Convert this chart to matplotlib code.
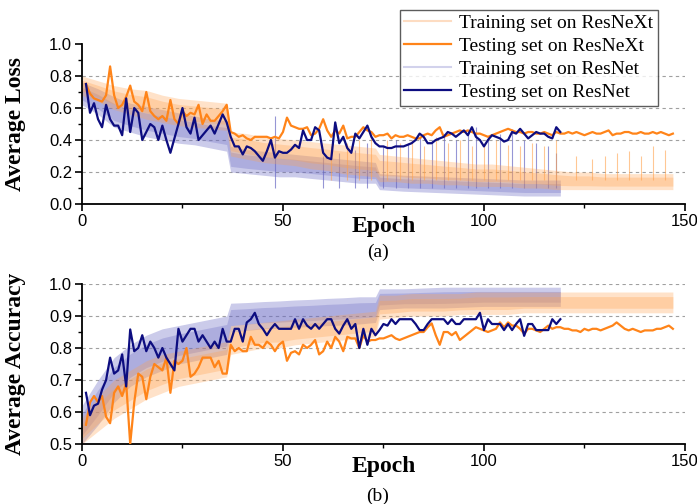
import matplotlib
matplotlib.use('Agg')
import matplotlib.pyplot as plt
import numpy as np
from matplotlib.lines import Line2D
from matplotlib.ticker import MultipleLocator

# testing curves, one value per epoch
nx_test_ep = np.arange(1, 148)
rn_test_ep = np.arange(1, 120)

loss_nx_test = [0.75, 0.69, 0.66, 0.65, 0.64, 0.68, 0.86, 0.68, 0.60, 0.62,
                0.67, 0.74, 0.64, 0.62, 0.58, 0.70, 0.58, 0.55, 0.53, 0.55,
                0.52, 0.65, 0.53, 0.50, 0.58, 0.55, 0.57, 0.56, 0.62, 0.50,
                0.56, 0.52, 0.52, 0.55, 0.58, 0.62, 0.45, 0.44, 0.42, 0.43,
                0.41, 0.40, 0.42, 0.42, 0.42, 0.42, 0.41, 0.42, 0.41, 0.45,
                0.54, 0.49, 0.48, 0.47, 0.47, 0.48, 0.43, 0.44, 0.47, 0.53,
                0.46, 0.42, 0.46, 0.44, 0.49, 0.41, 0.42, 0.42, 0.45, 0.48,
                0.46, 0.45, 0.42, 0.43, 0.43, 0.44, 0.41, 0.43, 0.42, 0.42,
                0.43, 0.42, 0.41, 0.41, 0.43, 0.44, 0.43, 0.46, 0.48, 0.42,
                0.43, 0.44, 0.45, 0.46, 0.45, 0.46, 0.45, 0.44, 0.44, 0.43,
                0.42, 0.43, 0.44, 0.45, 0.46, 0.47, 0.46, 0.45, 0.45, 0.44,
                0.45, 0.45, 0.44, 0.44, 0.45, 0.44, 0.43, 0.45, 0.44, 0.44,
                0.45, 0.44, 0.45, 0.44, 0.43, 0.44, 0.45, 0.44, 0.44, 0.45,
                0.46, 0.43, 0.44, 0.44, 0.45, 0.45, 0.44, 0.44, 0.45, 0.44,
                0.44, 0.45, 0.44, 0.45, 0.44, 0.43, 0.44]

loss_rn_test = [0.75, 0.57, 0.63, 0.53, 0.48, 0.62, 0.53, 0.49, 0.49, 0.43,
                0.66, 0.45, 0.60, 0.57, 0.40, 0.45, 0.50, 0.48, 0.40, 0.49,
                0.40, 0.32, 0.41, 0.50, 0.60, 0.48, 0.44, 0.54, 0.40, 0.43,
                0.46, 0.49, 0.44, 0.50, 0.56, 0.51, 0.42, 0.36, 0.36, 0.31,
                0.36, 0.35, 0.33, 0.30, 0.27, 0.33, 0.40, 0.29, 0.33, 0.32,
                0.32, 0.34, 0.37, 0.35, 0.46, 0.40, 0.40, 0.48, 0.46, 0.32,
                0.29, 0.28, 0.51, 0.38, 0.42, 0.35, 0.32, 0.44, 0.41, 0.45,
                0.49, 0.42, 0.38, 0.36, 0.36, 0.35, 0.35, 0.36, 0.36, 0.36,
                0.37, 0.38, 0.40, 0.44, 0.42, 0.38, 0.38, 0.40, 0.41, 0.42,
                0.45, 0.44, 0.42, 0.44, 0.46, 0.43, 0.48, 0.42, 0.40, 0.36,
                0.40, 0.43, 0.42, 0.41, 0.39, 0.40, 0.45, 0.44, 0.47, 0.44,
                0.41, 0.43, 0.45, 0.44, 0.44, 0.42, 0.41, 0.48, 0.45]

acc_nx_test = [0.56, 0.63, 0.65, 0.63, 0.65, 0.585, 0.565, 0.66, 0.68, 0.65,
               0.69, 0.50, 0.63, 0.72, 0.71, 0.64, 0.71, 0.75, 0.74, 0.73,
               0.77, 0.66, 0.76, 0.75, 0.76, 0.80, 0.71, 0.72, 0.74, 0.77,
               0.77, 0.77, 0.74, 0.76, 0.72, 0.72, 0.81, 0.79, 0.80, 0.79,
               0.79, 0.835, 0.81, 0.81, 0.80, 0.82, 0.81, 0.79, 0.81, 0.82,
               0.76, 0.785, 0.79, 0.78, 0.81, 0.80, 0.81, 0.825, 0.78, 0.79,
               0.82, 0.80, 0.835, 0.82, 0.79, 0.835, 0.83, 0.83, 0.80, 0.84,
               0.82, 0.825, 0.825, 0.83, 0.83, 0.835, 0.84, 0.83, 0.825, 0.83,
               0.835, 0.84, 0.845, 0.85, 0.85, 0.865, 0.877, 0.84, 0.81, 0.85,
               0.85, 0.84, 0.85, 0.825, 0.835, 0.845, 0.855, 0.865, 0.86, 0.855,
               0.85, 0.855, 0.86, 0.88, 0.865, 0.88, 0.87, 0.87, 0.86, 0.845,
               0.86, 0.86, 0.855, 0.85, 0.86, 0.87, 0.86, 0.865, 0.865, 0.86,
               0.86, 0.855, 0.855, 0.85, 0.86, 0.855, 0.86, 0.86, 0.855, 0.86,
               0.865, 0.87, 0.88, 0.87, 0.86, 0.855, 0.86, 0.855, 0.85, 0.855,
               0.855, 0.855, 0.86, 0.86, 0.865, 0.87, 0.86]

acc_rn_test = [0.66, 0.59, 0.62, 0.626, 0.67, 0.70, 0.77, 0.72, 0.73, 0.78,
               0.68, 0.858, 0.79, 0.80, 0.84, 0.79, 0.82, 0.80, 0.77, 0.80,
               0.77, 0.75, 0.73, 0.86, 0.82, 0.84, 0.86, 0.86, 0.82, 0.84,
               0.82, 0.80, 0.82, 0.80, 0.86, 0.82, 0.82, 0.86, 0.86, 0.82,
               0.88, 0.89, 0.91, 0.875, 0.86, 0.84, 0.86, 0.875, 0.86, 0.86,
               0.86, 0.86, 0.89, 0.86, 0.89, 0.87, 0.86, 0.875, 0.86, 0.875,
               0.89, 0.89, 0.86, 0.845, 0.87, 0.89, 0.86, 0.875, 0.80, 0.86,
               0.81, 0.86, 0.84, 0.856, 0.875, 0.87, 0.89, 0.875, 0.89, 0.89,
               0.89, 0.89, 0.875, 0.856, 0.856, 0.875, 0.89, 0.89, 0.89, 0.89,
               0.875, 0.89, 0.875, 0.875, 0.89, 0.89, 0.89, 0.89, 0.91, 0.856,
               0.89, 0.875, 0.875, 0.875, 0.856, 0.875, 0.856, 0.875, 0.89, 0.838,
               0.875, 0.875, 0.856, 0.856, 0.856, 0.856, 0.89, 0.875, 0.89]

# training curves: spread (low / high)
nx_band_ep = [0, 4, 8, 12, 16, 20, 24, 28, 32, 36, 37, 41, 45, 49, 53, 57, 61,
              65, 69, 73, 74, 78, 82, 86, 90, 94, 98, 102, 106, 110, 114, 118,
              122, 126, 130, 134, 138, 142, 147]
rn_band_ep = [0, 4, 8, 12, 16, 20, 24, 28, 32, 36, 37, 41, 45, 49, 53, 57, 61,
              65, 69, 73, 74, 80, 90, 100, 110, 119]

loss_nx_lo = [0.68, 0.64, 0.59, 0.56, 0.53, 0.51, 0.49, 0.48, 0.47, 0.46, 0.30,
              0.28, 0.26, 0.25, 0.24, 0.22, 0.21, 0.19, 0.18, 0.17, 0.14, 0.14,
              0.13, 0.13, 0.12, 0.12, 0.11, 0.11, 0.11, 0.10, 0.10, 0.09, 0.09,
              0.09, 0.09, 0.09, 0.09, 0.09, 0.09]
loss_nx_hi = [0.80, 0.77, 0.74, 0.72, 0.71, 0.68, 0.66, 0.65, 0.64, 0.63, 0.45,
              0.44, 0.42, 0.41, 0.40, 0.39, 0.38, 0.37, 0.36, 0.35, 0.31, 0.30,
              0.29, 0.28, 0.27, 0.26, 0.25, 0.25, 0.24, 0.23, 0.22, 0.21, 0.20,
              0.20, 0.19, 0.19, 0.19, 0.19, 0.19]
loss_rn_lo = [0.62, 0.56, 0.48, 0.45, 0.42, 0.40, 0.38, 0.37, 0.35, 0.33, 0.20,
              0.19, 0.18, 0.17, 0.17, 0.16, 0.15, 0.14, 0.13, 0.13, 0.09, 0.08,
              0.07, 0.06, 0.05, 0.05]
loss_rn_hi = [0.76, 0.72, 0.67, 0.63, 0.61, 0.59, 0.57, 0.55, 0.53, 0.52, 0.36,
              0.34, 0.33, 0.32, 0.31, 0.30, 0.29, 0.28, 0.27, 0.26, 0.19, 0.18,
              0.17, 0.16, 0.15, 0.15]

acc_nx_lo = [0.50, 0.54, 0.58, 0.61, 0.64, 0.66, 0.68, 0.69, 0.70, 0.71, 0.78,
             0.79, 0.80, 0.80, 0.81, 0.815, 0.82, 0.825, 0.83, 0.835, 0.89, 0.895,
             0.90, 0.90, 0.90, 0.905, 0.905, 0.905, 0.905, 0.91, 0.91, 0.91, 0.91,
             0.91, 0.91, 0.91, 0.91, 0.91, 0.91]
acc_nx_hi = [0.58, 0.65, 0.70, 0.73, 0.76, 0.78, 0.79, 0.80, 0.81, 0.82, 0.87,
             0.875, 0.88, 0.885, 0.89, 0.895, 0.90, 0.905, 0.91, 0.915, 0.965, 0.965,
             0.97, 0.97, 0.97, 0.97, 0.975, 0.975, 0.975, 0.975, 0.975, 0.975, 0.975,
             0.975, 0.975, 0.975, 0.975, 0.975, 0.975]
acc_rn_lo = [0.50, 0.56, 0.63, 0.68, 0.71, 0.73, 0.75, 0.76, 0.77, 0.78, 0.85,
             0.855, 0.86, 0.862, 0.865, 0.867, 0.87, 0.872, 0.875, 0.88, 0.92, 0.925,
             0.925, 0.93, 0.93, 0.93]
acc_rn_hi = [0.62, 0.70, 0.77, 0.81, 0.84, 0.86, 0.87, 0.88, 0.89, 0.90, 0.94,
             0.942, 0.945, 0.947, 0.95, 0.952, 0.955, 0.957, 0.96, 0.96, 0.985, 0.985,
             0.99, 0.99, 0.99, 0.99]

# occasional spikes in the training loss
nx_spike_ep = [62, 66, 69, 72, 76, 79, 82, 85, 88, 91, 94, 97, 100, 103, 106,
               109, 112, 115, 118, 123, 127, 130, 133, 136, 139, 142, 145]
nx_spike_val = [0.36, 0.38, 0.40, 0.42, 0.40, 0.38, 0.40, 0.36, 0.42, 0.38, 0.40,
                0.36, 0.38, 0.40, 0.37, 0.36, 0.38, 0.36, 0.40, 0.30, 0.28, 0.30,
                0.32, 0.33, 0.30, 0.36, 0.34]
rn_spike_ep = [48, 60, 64, 68, 71, 75, 78, 81, 84, 87, 90, 93, 96, 98, 101,
               104, 107, 110, 113, 116, 118]
rn_spike_val = [0.55, 0.30, 0.32, 0.34, 0.38, 0.36, 0.40, 0.38, 0.42, 0.40, 0.44,
                0.40, 0.46, 0.48, 0.42, 0.44, 0.47, 0.40, 0.38, 0.36, 0.32]

c_nx = '#FF8419'
c_rn = '#0D0D80'
c_nx_train = '#FFA24D'
c_rn_train = '#6A6AC4'
serif = 'Liberation Serif'
sans = 'Liberation Sans'

fig = plt.figure(figsize=(6.97, 5.04), dpi=100)
ax1 = fig.add_axes([0.1176, 0.5952, 0.8651, 0.3175])
ax2 = fig.add_axes([0.1176, 0.1190, 0.8651, 0.3175])


def draw_band(ax, ep, lo, hi, color, a_out, a_in, z):
    # sparse fringe plus a denser core, like a noisy per-iteration curve
    lo = np.asarray(lo)
    hi = np.asarray(hi)
    w = hi - lo
    ax.fill_between(ep, lo, hi, color=color, alpha=a_out, lw=0, zorder=z)
    ax.fill_between(ep, lo + 0.22 * w, hi - 0.22 * w, color=color,
                    alpha=a_in, lw=0, zorder=z)


def style_axes(ax, ylo, yhi, ymaj, grid_levels, ylabel):
    ax.set_xlim(0, 150)
    ax.set_ylim(ylo, yhi)
    ax.xaxis.set_major_locator(MultipleLocator(50))
    ax.xaxis.set_minor_locator(MultipleLocator(25))
    ax.yaxis.set_major_locator(MultipleLocator(ymaj))
    ax.yaxis.set_minor_locator(MultipleLocator(ymaj / 2))
    for s in ['top', 'right']:
        ax.spines[s].set_visible(False)
    for s in ['left', 'bottom']:
        ax.spines[s].set_linewidth(1.3)
    ax.tick_params(which='major', length=5, width=1.2, pad=2, labelsize=12)
    ax.tick_params(which='minor', length=3, width=1.0)
    for lab in ax.get_xticklabels() + ax.get_yticklabels():
        lab.set_family(sans)
    for g in grid_levels:
        ax.axhline(g, color='#a0a0a0', lw=0.8, ls=(0, (3, 3)), zorder=0)
    ax.set_ylabel(ylabel, family=serif, fontweight='bold', fontsize=17)
    ax.yaxis.set_label_coords(-0.092, 0.5)
    ax.text(0.5, -0.14, 'Epoch', transform=ax.transAxes, ha='center',
            va='center', family=serif, fontweight='bold', fontsize=17)


# (a) loss
draw_band(ax1, rn_band_ep, loss_rn_lo, loss_rn_hi, c_rn_train, 0.35, 0.3, 1)
draw_band(ax1, nx_band_ep, loss_nx_lo, loss_nx_hi, c_nx_train, 0.3, 0.3, 2)
ax1.vlines(rn_spike_ep, 0.1, rn_spike_val, color=c_rn_train, lw=0.8,
           alpha=0.7, zorder=1)
ax1.vlines(nx_spike_ep, 0.15, nx_spike_val, color=c_nx_train, lw=0.8,
           alpha=0.6, zorder=2)
ax1.plot(nx_test_ep, loss_nx_test, color=c_nx, lw=1.6, zorder=3)
ax1.plot(rn_test_ep, loss_rn_test, color=c_rn, lw=1.6, zorder=4)
style_axes(ax1, 0, 1.0, 0.2, [0.2, 0.4, 0.6, 0.8], 'Average Loss')

handles = [Line2D([0], [0], color='#FDDCC2', lw=1.5),
           Line2D([0], [0], color=c_nx, lw=1.6),
           Line2D([0], [0], color='#D2D2EC', lw=1.5),
           Line2D([0], [0], color=c_rn, lw=1.6)]
labels = ['Training set on ResNeXt', 'Testing set on ResNeXt',
          'Training set on ResNet', 'Testing set on ResNet']
leg = ax1.legend(handles, labels, loc='upper right',
                 bbox_to_anchor=(0.955, 1.215), frameon=True, fancybox=False,
                 prop={'family': serif, 'size': 14}, handlelength=2.4,
                 labelspacing=0.28, borderpad=0.25, handletextpad=0.4,
                 borderaxespad=0)
leg.get_frame().set_edgecolor('#333333')
leg.get_frame().set_linewidth(1.0)
leg.set_zorder(10)

# (b) accuracy
draw_band(ax2, rn_band_ep, acc_rn_lo, acc_rn_hi, c_rn_train, 0.35, 0.3, 1)
draw_band(ax2, nx_band_ep, acc_nx_lo, acc_nx_hi, c_nx_train, 0.3, 0.3, 2)
ax2.plot(nx_test_ep, acc_nx_test, color=c_nx, lw=1.6, zorder=3)
ax2.plot(rn_test_ep, acc_rn_test, color=c_rn, lw=1.6, zorder=4)
style_axes(ax2, 0.5, 1.0, 0.1, [0.6, 0.7, 0.8, 0.9, 1.0], 'Average Accuracy')

fig.text(378 / 697, 1 - 252 / 504, '(a)', ha='center', va='center',
         family=serif, fontsize=14)
fig.text(378 / 697, 1 - 496 / 504, '(b)', ha='center', va='center',
         family=serif, fontsize=14)

fig.savefig('out.png', dpi=100)
